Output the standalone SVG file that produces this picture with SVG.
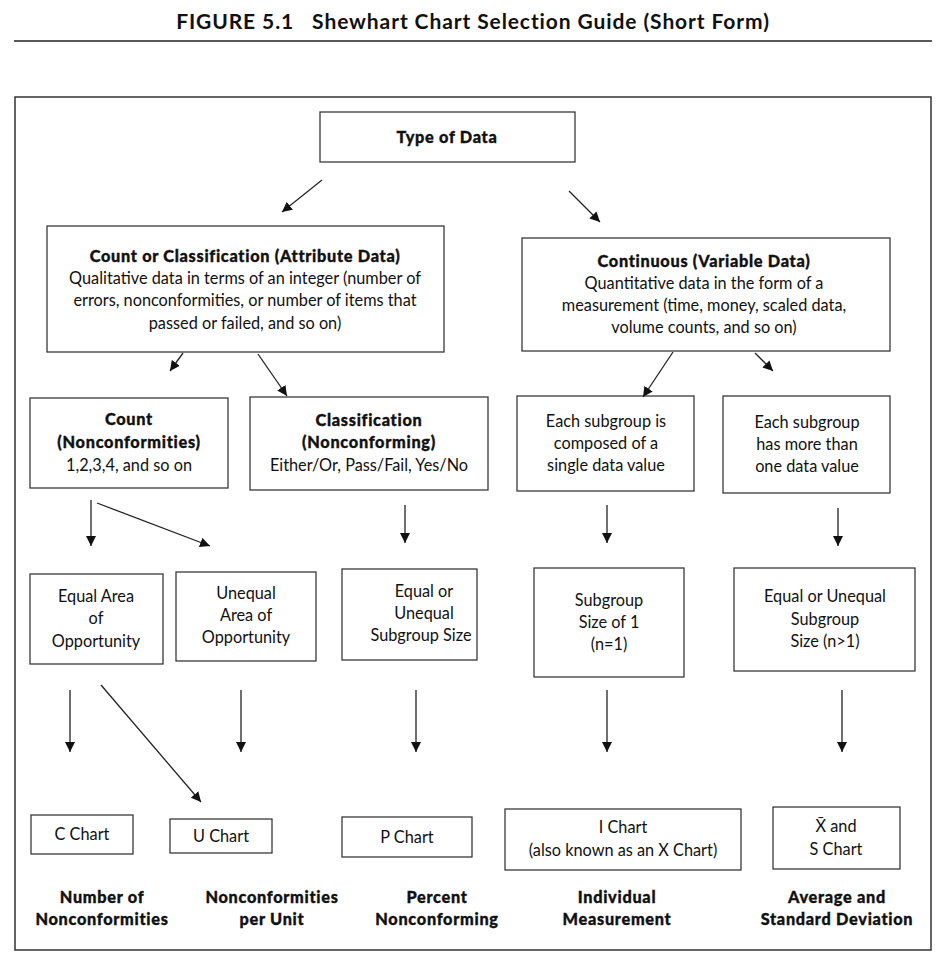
<svg xmlns="http://www.w3.org/2000/svg" width="945" height="960" viewBox="0 0 945 960">
<style>
.box{fill:#fff;stroke:#3a3a3a;stroke-width:1.3}
.t{font-family:Lato,"Liberation Sans",sans-serif;font-size:16.3px;fill:#111;text-anchor:middle}
.b{font-family:"Lato Black",Lato,"Liberation Sans",sans-serif;font-size:16.3px;font-weight:900;letter-spacing:0.7px;fill:#111;text-anchor:middle;stroke:#111;stroke-width:0.35px}
.c{stroke:#222;stroke-width:1.3;fill:none;marker-end:url(#ah)}
</style>
<defs>
<marker id="ah" viewBox="0 0 10 10" refX="10" refY="5" markerWidth="10" markerHeight="10" markerUnits="userSpaceOnUse" orient="auto">
<path d="M0,0 L10,5 L0,10 z" fill="#111"/>
</marker>
</defs>
<rect width="945" height="960" fill="#fff"/>
<text x="473" y="29" font-family="Lato,'Liberation Sans',sans-serif" font-size="21" font-weight="bold" letter-spacing="0.9" text-anchor="middle" fill="#111" xml:space="preserve">FIGURE 5.1   Shewhart Chart Selection Guide (Short Form)</text>
<line x1="14" y1="41" x2="932" y2="41" stroke="#222" stroke-width="1.3"/>
<rect x="15" y="97" width="916" height="853" fill="none" stroke="#333" stroke-width="1.5"/>

<g id="type"><rect class="box" x="320" y="112" width="255" height="50"/><text class="b" x="447" y="143">Type of Data</text></g>
<g id="attr"><rect class="box" x="47" y="226" width="397" height="126"/>
<text class="b" x="245" y="262">Count or Classification (Attribute Data)</text>
<text class="t" x="245" y="284">Qualitative data in terms of an integer (number of</text>
<text class="t" x="245" y="306">errors, nonconformities, or number of items that</text>
<text class="t" x="245" y="329">passed or failed, and so on)</text></g>
<g id="cont"><rect class="box" x="522" y="238" width="368" height="113"/>
<text class="b" x="704" y="267">Continuous (Variable Data)</text>
<text class="t" x="704" y="289">Quantitative data in the form of a</text>
<text class="t" x="704" y="311">measurement (time, money, scaled data,</text>
<text class="t" x="704" y="333">volume counts, and so on)</text></g>

<g id="count"><rect class="box" x="30" y="398" width="198" height="90"/>
<text class="b" x="129" y="425">Count</text>
<text class="b" x="129" y="448">(Nonconformities)</text>
<text class="t" x="129" y="471">1,2,3,4, and so on</text></g>
<g id="class"><rect class="box" x="250" y="397" width="238" height="93"/>
<text class="b" x="369" y="426">Classification</text>
<text class="b" x="369" y="448">(Nonconforming)</text>
<text class="t" x="369" y="471">Either/Or, Pass/Fail, Yes/No</text></g>
<g id="single"><rect class="box" x="517" y="396" width="177" height="95"/>
<text class="t" x="606" y="427">Each subgroup is</text>
<text class="t" x="606" y="449">composed of a</text>
<text class="t" x="606" y="471">single data value</text></g>
<g id="multi"><rect class="box" x="723" y="396" width="167" height="97"/>
<text class="t" x="807" y="428">Each subgroup</text>
<text class="t" x="807" y="450">has more than</text>
<text class="t" x="807" y="472">one data value</text></g>

<g id="equalarea"><rect class="box" x="30" y="574" width="133" height="90"/>
<text class="t" x="96" y="602">Equal Area</text>
<text class="t" x="96" y="624">of</text>
<text class="t" x="96" y="647">Opportunity</text></g>
<g id="unequalarea"><rect class="box" x="176" y="572" width="140" height="89"/>
<text class="t" x="246" y="599">Unequal</text>
<text class="t" x="246" y="621">Area of</text>
<text class="t" x="246" y="643">Opportunity</text></g>
<g id="equalsub"><rect class="box" x="342" y="569" width="135" height="91"/>
<text class="t" x="424" y="597">Equal or</text>
<text class="t" x="424" y="619">Unequal</text>
<text class="t" x="421" y="641">Subgroup Size</text></g>
<g id="size1"><rect class="box" x="534" y="568" width="150" height="109"/>
<text class="t" x="609" y="606">Subgroup</text>
<text class="t" x="609" y="628">Size of 1</text>
<text class="t" x="609" y="650">(n=1)</text></g>
<g id="sizen"><rect class="box" x="734" y="568" width="181" height="103"/>
<text class="t" x="825" y="602">Equal or Unequal</text>
<text class="t" x="825" y="625">Subgroup</text>
<text class="t" x="825" y="647">Size (n&gt;1)</text></g>

<g id="cchart"><rect class="box" x="31" y="815" width="102" height="39"/><text class="t" x="82" y="840">C Chart</text></g>
<g id="uchart"><rect class="box" x="170" y="819" width="102" height="34"/><text class="t" x="221" y="842">U Chart</text></g>
<g id="pchart"><rect class="box" x="342" y="817" width="130" height="40"/><text class="t" x="407" y="843">P Chart</text></g>
<g id="ichart"><rect class="box" x="505" y="809" width="236" height="61"/>
<text class="t" x="623" y="833">I Chart</text>
<text class="t" x="623" y="856">(also known as an X Chart)</text></g>
<g id="xschart"><rect class="box" x="773" y="807" width="127" height="62"/>
<text class="t" x="836" y="832">X&#x0304; and</text>
<text class="t" x="836" y="855">S Chart</text></g>

<g id="labels">
<text class="b" x="102" y="903">Number of</text><text class="b" x="102" y="925">Nonconformities</text>
<text class="b" x="272" y="903">Nonconformities</text><text class="b" x="272" y="925">per Unit</text>
<text class="b" x="437" y="903">Percent</text><text class="b" x="437" y="925">Nonconforming</text>
<text class="b" x="617" y="903">Individual</text><text class="b" x="617" y="925">Measurement</text>
<text class="b" x="837" y="903">Average and</text><text class="b" x="837" y="925">Standard Deviation</text>
</g>

<g id="connectors">
<line class="c" x1="322" y1="180" x2="282" y2="212"/>
<line class="c" x1="569" y1="191" x2="600" y2="222"/>
<line class="c" x1="183" y1="353" x2="170" y2="371"/>
<line class="c" x1="258" y1="354" x2="287" y2="396"/>
<line class="c" x1="673" y1="352" x2="643" y2="397"/>
<line class="c" x1="755" y1="353" x2="773" y2="371"/>
<line class="c" x1="91" y1="500" x2="91" y2="546"/>
<line class="c" x1="97" y1="503" x2="210" y2="546"/>
<line class="c" x1="405" y1="505" x2="405" y2="543"/>
<line class="c" x1="607" y1="505" x2="607" y2="543"/>
<line class="c" x1="838" y1="508" x2="838" y2="546"/>
<line class="c" x1="70" y1="690" x2="70" y2="752"/>
<line class="c" x1="101" y1="685" x2="201" y2="802"/>
<line class="c" x1="241" y1="690" x2="241" y2="752"/>
<line class="c" x1="416" y1="690" x2="416" y2="752"/>
<line class="c" x1="607" y1="690" x2="607" y2="752"/>
<line class="c" x1="842" y1="690" x2="842" y2="752"/>
</g>
</svg>
